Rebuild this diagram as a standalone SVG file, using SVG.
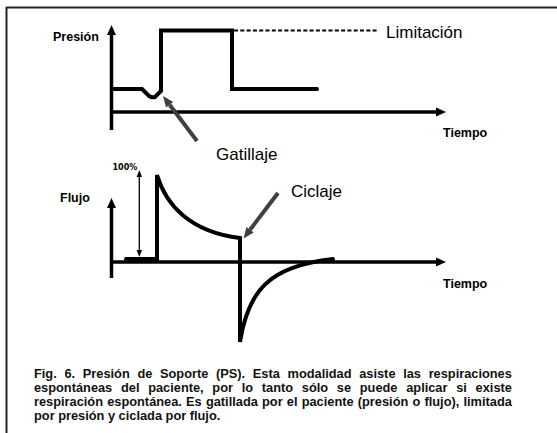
<svg xmlns="http://www.w3.org/2000/svg" width="557" height="433" viewBox="0 0 557 433">
<style>
.ax{stroke:#000;stroke-width:3.5;fill:none}
.tr{stroke:#000;stroke-width:4;fill:none;stroke-linecap:round}
.ah{fill:#000}
.lbl{font-family:"Liberation Sans",Arial,sans-serif;font-weight:bold;font-size:12.5px;fill:#000}
.ann{font-family:"Liberation Sans",Arial,sans-serif;font-size:17px;fill:#000}
.cap{font-family:"Liberation Sans",Arial,sans-serif;font-weight:bold;font-size:12.8px;fill:#111}
.ptr{stroke:#404040;stroke-width:4;fill:none}
.pth{fill:#404040}
</style>
<rect width="557" height="433" fill="#fff"/>
<g id="frame">
<line x1="6" y1="7.5" x2="557" y2="7.5" stroke="#222" stroke-width="2"/>
<line x1="6.5" y1="7" x2="6.5" y2="433" stroke="#222" stroke-width="2"/>
</g>
<g id="pressure-chart">
<line class="ax" x1="111.5" y1="130" x2="111.5" y2="34"/>
<polygon class="ah" points="111.5,25 107,35 116,35"/>
<line class="ax" x1="110" y1="112" x2="437" y2="112"/>
<polygon class="ah" points="446,112 436,107.5 436,116.5"/>
<text class="lbl" x="53" y="41">Presión</text>
<text class="lbl" x="443" y="137">Tiempo</text>
<path class="tr" d="M113,89 H142 Q146,93 149,96 Q152,98 155,97 L161,91 V30.5 H232 V89 H317"/>
<line x1="234" y1="30.5" x2="377" y2="30.5" stroke="#000" stroke-width="2" stroke-dasharray="4,2.3"/>
<text class="ann" x="386" y="38">Limitación</text>
</g>
<g id="flow-chart">
<line class="ax" x1="111.5" y1="278" x2="111.5" y2="207"/>
<polygon class="ah" points="111.5,198 107,208 116,208"/>
<line class="ax" x1="110" y1="262" x2="437" y2="262"/>
<polygon class="ah" points="446,262 436,257.5 436,266.5"/>
<text class="lbl" x="60" y="202">Flujo</text>
<text class="lbl" x="443" y="288">Tiempo</text>
<text x="112.5" y="169.5" font-family="'DejaVu Sans',Verdana,sans-serif" font-weight="bold" font-size="8px">100%</text>
<line x1="139.3" y1="175" x2="139.3" y2="252" stroke="#000" stroke-width="1.3"/>
<polygon class="ah" points="139.3,170 136.6,177 142,177"/>
<polygon class="ah" points="139.3,257 136.6,250 142,250"/>
<path class="tr" d="M126,259 H157 V175 C166,205 190,232 240,238 V342 C248,292 268,266 333,259"/>
</g>
<g id="connectors">
<g id="gatillaje-arrow">
<line class="ptr" x1="197" y1="141" x2="169.6" y2="104.8"/>
<polygon class="pth" points="163,96 173.2,102.1 166,107.5"/>
</g>
<g id="ciclaje-arrow">
<line class="ptr" x1="278" y1="193" x2="250.1" y2="229.7"/>
<polygon class="pth" points="243.5,238.5 253.7,232.4 246.5,227"/>
</g>
</g>
<g id="labels">
<text class="ann" x="216" y="160">Gatillaje</text>
<text class="ann" x="291" y="197">Ciclaje</text>
</g>
<g id="caption">
<text class="cap" x="34" y="377.5" word-spacing="4.12">Fig. 6. Presión de Soporte (PS). Esta modalidad asiste las respiraciones</text>
<text class="cap" x="34" y="391.7" word-spacing="5.17">espontáneas del paciente, por lo tanto sólo se puede aplicar si existe</text>
<text class="cap" x="34" y="406" word-spacing="0.64">respiración espontánea. Es gatillada por el paciente (presión o flujo), limitada</text>
<text class="cap" x="34" y="420">por presión y ciclada por flujo.</text>
</g>
</svg>
